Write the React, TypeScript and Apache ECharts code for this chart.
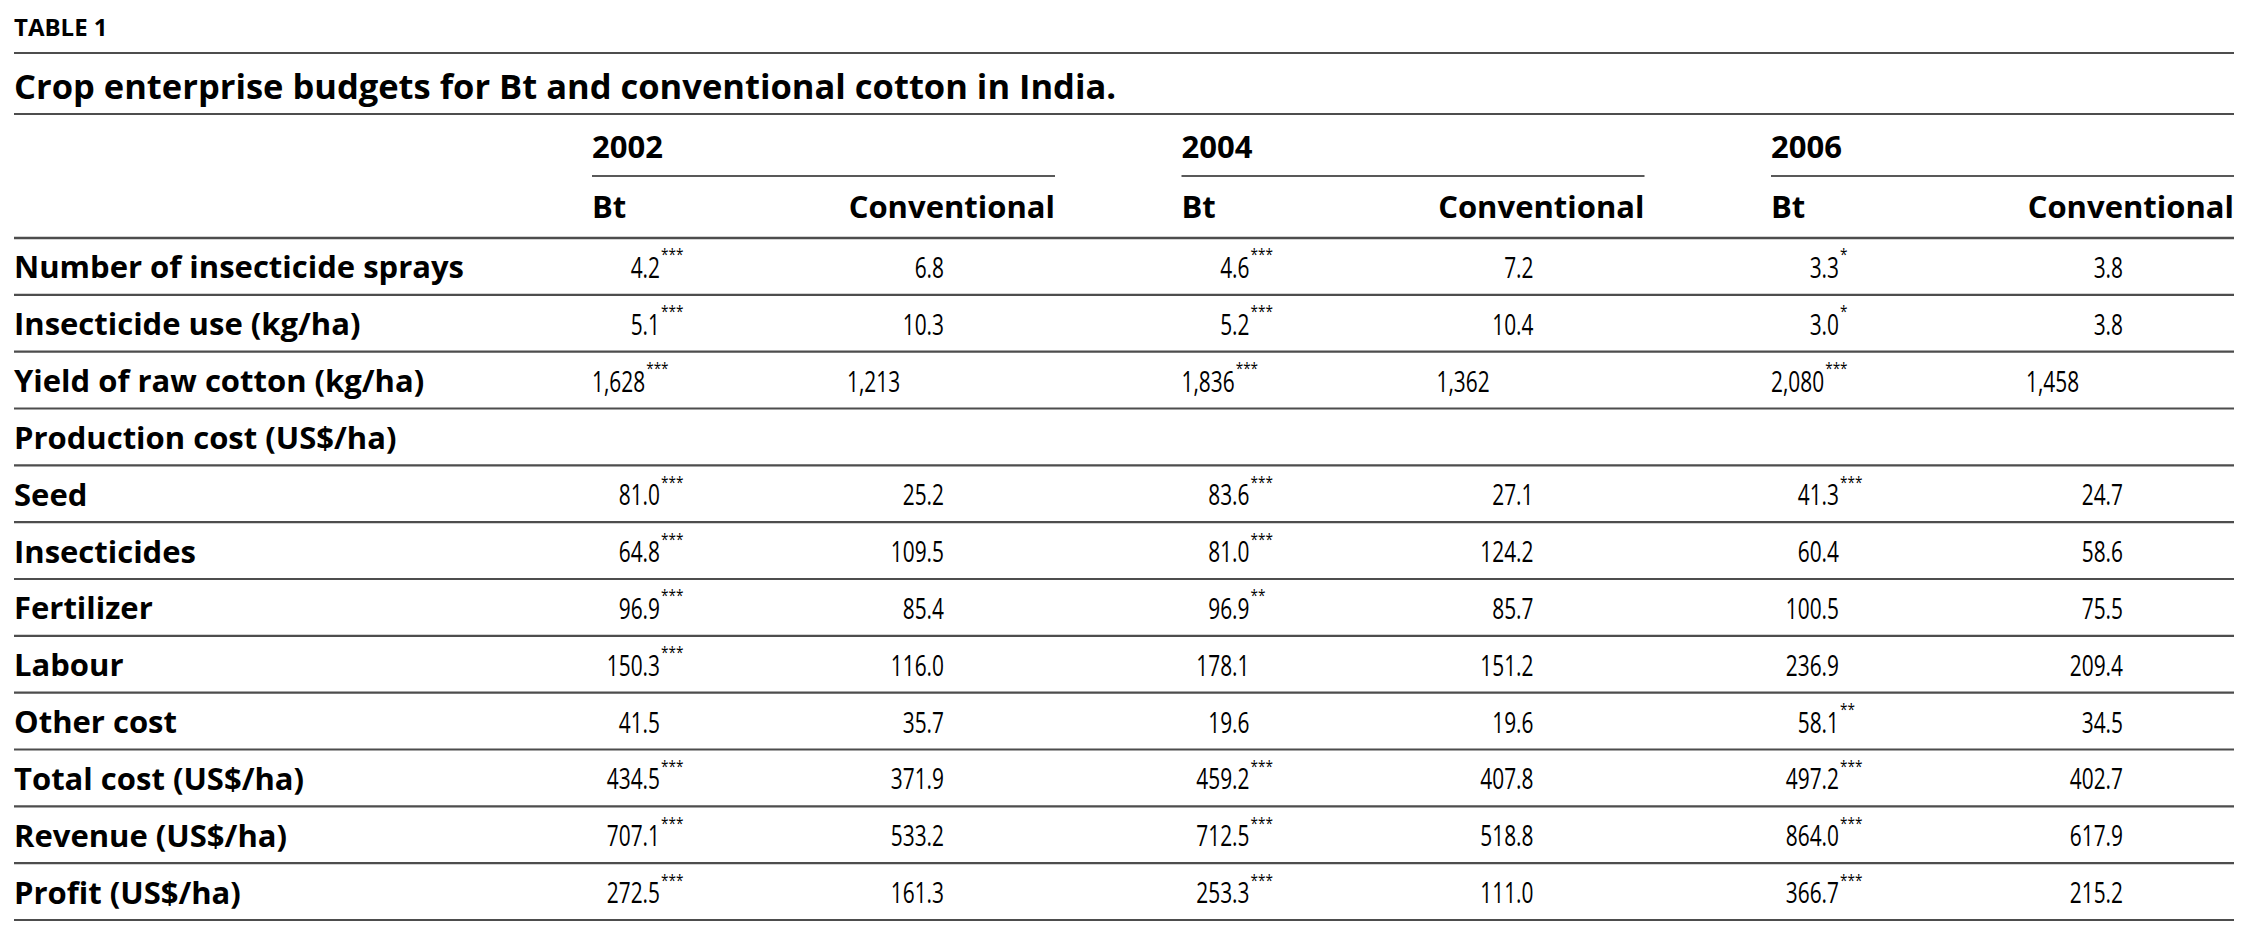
import React, { useEffect, useRef } from 'react';
import * as echarts from 'echarts';

// ---------- data ----------
const tableNumber = 'TABLE 1';
const tableTitle = 'Crop enterprise budgets for Bt and conventional cotton in India.';
const years = ['2002', '2004', '2006'];
const subHeaders = ['Bt', 'Conventional'];
const rowLabels = [
  'Number of insecticide sprays',
  'Insecticide use (kg/ha)',
  'Yield of raw cotton (kg/ha)',
  'Production cost (US$/ha)',
  'Seed',
  'Insecticides',
  'Fertilizer',
  'Labour',
  'Other cost',
  'Total cost (US$/ha)',
  'Revenue (US$/ha)',
  'Profit (US$/ha)',
];
const bt2002 = [4.2, 5.1, 1628, null, 81.0, 64.8, 96.9, 150.3, 41.5, 434.5, 707.1, 272.5];
const conv2002 = [6.8, 10.3, 1213, null, 25.2, 109.5, 85.4, 116.0, 35.7, 371.9, 533.2, 161.3];
const sig2002 = ['***', '***', '***', '', '***', '***', '***', '***', '', '***', '***', '***'];
const bt2004 = [4.6, 5.2, 1836, null, 83.6, 81.0, 96.9, 178.1, 19.6, 459.2, 712.5, 253.3];
const conv2004 = [7.2, 10.4, 1362, null, 27.1, 124.2, 85.7, 151.2, 19.6, 407.8, 518.8, 111.0];
const sig2004 = ['***', '***', '***', '', '***', '***', '**', '', '', '***', '***', '***'];
const bt2006 = [3.3, 3.0, 2080, null, 41.3, 60.4, 100.5, 236.9, 58.1, 497.2, 864.0, 366.7];
const conv2006 = [3.8, 3.8, 1458, null, 24.7, 58.6, 75.5, 209.4, 34.5, 402.7, 617.9, 215.2];
const sig2006 = ['*', '*', '***', '', '***', '', '', '', '**', '***', '***', '***'];
const countRows = [2]; // rows shown as whole numbers with thousands separators

const btByYear = [bt2002, bt2004, bt2006];
const convByYear = [conv2002, conv2004, conv2006];
const sigByYear = [sig2002, sig2004, sig2006];

// ---------- layout ----------
const W = 2260;
const H = 932;
const FONT = '"Open Sans", "Noto Sans", sans-serif';
const tableLeft = 14;
const tableRight = 2234;
const groupLeft = 592;
const groupStep = 589.5;
const groupWidth = tableRight - (groupLeft + 2 * groupStep);
const bodyTop = 238;
const bodyBottom = 920;
const btRight = 68;
const convRight = 352;
const countConvLeft = 255;
const labelSize = 31;
const valueSize = 29;
const valueScale = 0.72;
const ruleColor = '#4d4d4d';

function fmt(v: number, r: number): string {
  if (countRows.includes(r)) return Math.round(v).toLocaleString('en-US');
  return v.toFixed(1);
}

let measureCtx: CanvasRenderingContext2D | null = null;
function textWidth(text: string, size: number, weight = 'normal'): number {
  if (!measureCtx) measureCtx = document.createElement('canvas').getContext('2d');
  if (!measureCtx) return text.length * size * 0.55;
  measureCtx.font = `${weight} ${size}px ${FONT}`;
  return measureCtx.measureText(text).width;
}

const cellData: number[][] = [];
years.forEach((_, g) => rowLabels.forEach((__, r) => cellData.push([g, r])));
const rowData = rowLabels.map((_, r) => [0, r]);

function txt(text: string, x: number, y: number, opts: any = {}) {
  const align = opts.align || 'left';
  return {
    type: 'text',
    x,
    y,
    scaleX: opts.scaleX || 1,
    style: {
      text,
      x: 0,
      y: 0,
      fill: '#000',
      fontFamily: FONT,
      fontSize: opts.size || labelSize,
      fontWeight: opts.weight || 'normal',
      align,
      textAlign: align,
      verticalAlign: 'middle',
      textVerticalAlign: 'middle',
    },
  };
}

function hline(x1: number, x2: number, y: number, color = ruleColor, w = 2.2) {
  return {
    type: 'line',
    shape: { x1, y1: y, x2, y2: y },
    style: { stroke: color, lineWidth: w },
  };
}

const graphics: any[] = [
  txt(tableNumber, tableLeft, 26, { size: 24, weight: 'bold' }),
  hline(tableLeft, tableRight, 53),
  txt(tableTitle, tableLeft, 85, { size: 34.5, weight: 'bold' }),
  hline(tableLeft, tableRight, 114),
];
years.forEach((y, g) => {
  const gl = groupLeft + g * groupStep;
  graphics.push(txt(y, gl, 146, { weight: 'bold' }));
  graphics.push(hline(gl, gl + groupWidth, 176, '#222', 1.6));
  graphics.push(txt(subHeaders[0], gl, 206, { weight: 'bold' }));
  graphics.push(txt(subHeaders[1], gl + groupWidth, 206, { weight: 'bold', align: 'right' }));
});

const option: any = {
  animation: false,
  backgroundColor: '#fff',
  grid: {
    left: groupLeft,
    top: bodyTop,
    width: groupStep * years.length,
    height: bodyBottom - bodyTop,
    containLabel: false,
    outerBoundsMode: 'none',
  },
  xAxis: {
    type: 'category',
    data: years,
    show: false,
  },
  yAxis: {
    type: 'category',
    data: rowLabels,
    inverse: true,
    axisLine: { show: false },
    axisTick: { show: false },
    splitLine: { show: false },
    axisLabel: {
      interval: 0,
      margin: groupLeft - tableLeft,
      align: 'left',
      color: '#000',
      fontFamily: FONT,
      fontWeight: 'bold',
      fontSize: labelSize,
    },
  },
  graphic: { elements: graphics },
  series: [
    {
      type: 'custom',
      name: 'rules',
      clip: false,
      silent: true,
      data: rowData,
      renderItem: (params: any, api: any) => {
        const r = api.value(1);
        const cy = api.coord([0, r])[1];
        const bh = api.size([0, 1])[1];
        const children: any[] = [hline(tableLeft, tableRight, cy + bh / 2, ruleColor, 2.2)];
        if (r === 0) children.push(hline(tableLeft, tableRight, cy - bh / 2, ruleColor, 2.6));
        return { type: 'group', children };
      },
    },
    {
      type: 'custom',
      name: 'cells',
      clip: false,
      silent: true,
      data: cellData,
      renderItem: (params: any, api: any) => {
        const g = api.value(0);
        const r = api.value(1);
        const [cx, cy] = api.coord([g, r]);
        const bw = api.size([1, 0])[0];
        const gl = cx - bw / 2;
        const bt = btByYear[g][r];
        const cv = convByYear[g][r];
        const sig = sigByYear[g][r];
        const children: any[] = [];
        if (bt == null) return { type: 'group', children };
        const isCount = countRows.includes(r);
        const btText = fmt(bt, r);
        const cvText = fmt(cv as number, r);
        let btEnd: number;
        if (isCount) {
          children.push(txt(btText, gl, cy, { size: valueSize, scaleX: valueScale }));
          btEnd = gl + textWidth(btText, valueSize) * valueScale + 1;
          children.push(txt(cvText, gl + countConvLeft, cy, { size: valueSize, scaleX: valueScale }));
        } else {
          children.push(txt(btText, gl + btRight, cy, { size: valueSize, scaleX: valueScale, align: 'right' }));
          btEnd = gl + btRight + 1;
          children.push(txt(cvText, gl + convRight, cy, { size: valueSize, scaleX: valueScale, align: 'right' }));
        }
        if (sig) {
          children.push(txt(sig, btEnd, cy - 12, { size: 17, scaleX: 0.8 }));
        }
        return { type: 'group', children };
      },
    },
  ],
};

export default function App() {
  const ref = useRef<HTMLDivElement>(null);
  useEffect(() => {
    const chart = echarts.init(ref.current!, null, { renderer: 'svg' });
    chart.setOption(option);
    return () => chart.dispose();
  }, []);
  return (
    <div
      ref={ref}
      style={{ position: 'absolute', left: 0, top: 0, width: W, height: H, background: '#fff' }}
    />
  );
}
